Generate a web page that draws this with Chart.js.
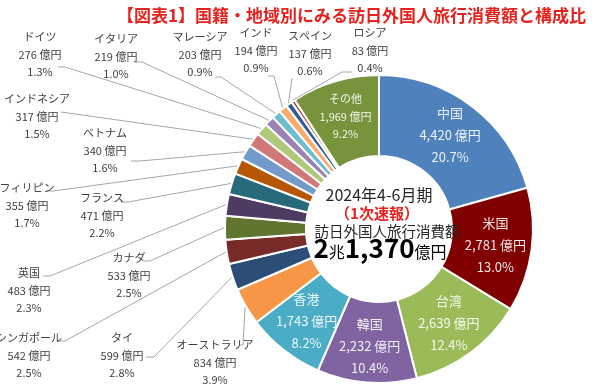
<!DOCTYPE html>
<html>
<head>
<meta charset="utf-8">
<script src="https://cdn.jsdelivr.net/npm/chart.js@4.4.0/dist/chart.umd.min.js"></script>
<style>
  body { margin: 0; background: #fff; }
  #c { display: block; }
</style>
</head>
<body>
<canvas id="c" width="599" height="389"></canvas>
<script>
// data (億円) and published shares
const categories = ['中国', '米国', '台湾', '韓国', '香港', 'オーストラリア', 'タイ', 'シンガポール', 'カナダ', '英国',
  'フランス', 'フィリピン', 'ベトナム', 'インドネシア', 'ドイツ', 'イタリア', 'マレーシア', 'インド', 'スペイン', 'ロシア', 'その他'];
const values = [4420, 2781, 2639, 2232, 1743, 834, 599, 542, 533, 483, 471, 355, 340, 317, 276, 219, 203, 194, 137, 83, 1969];
const shares = ['20.7%', '13.0%', '12.4%', '10.4%', '8.2%', '3.9%', '2.8%', '2.5%', '2.5%', '2.3%', '2.2%', '1.7%',
  '1.6%', '1.5%', '1.3%', '1.0%', '0.9%', '0.9%', '0.6%', '0.4%', '9.2%'];
const unit = '億円';

const colors = ['#4F81BD', '#800000', '#9BBB59', '#8064A2', '#4BACC6', '#F79646', '#2C4D75', '#772C2A', '#5F7530', '#4D3B62',
  '#276A7C', '#B65708', '#729ACA', '#D07878', '#AFC97A', '#9983B5', '#6FBDD1', '#F9AB6B', '#2F5C94', '#9E3B39', '#77933C'];

// labels for the thin slices sit outside: [text centre x, first row y, line attach x, attach y, elbow dx]
const outside = {
  5: [215, 345, 240, 345, 3],
  6: [122, 338, 146, 357, 8],
  7: [29, 338, 58, 341, 7],
  8: [129, 258, 143, 261, 7],
  9: [29, 273, 43, 276, 7],
  10: [102, 198, 121, 202, 7],
  11: [27, 188, 47, 191, 6],
  12: [105, 133, 131, 161, 9],
  13: [37, 99, 61, 112, 0],
  14: [40, 37, 58, 67, 7],
  15: [116, 39, 134, 62, 8],
  16: [200, 37, 215, 77, 6],
  17: [256, 33, 268, 76, 6],
  18: [310, 36, 292, 78, 0],
  19: [370, 33, 352, 72, -10]
};

const FONT = '"Noto Sans CJK JP", "Noto Sans", sans-serif';

function fmt(v) { return v.toLocaleString('en-US'); }

const labelPlugin = {
  id: 'labels',
  afterDraw(chart) {
    const ctx = chart.ctx;
    const arcs = chart.getDatasetMeta(0).data;
    ctx.save();
    ctx.textAlign = 'center';
    ctx.textBaseline = 'middle';

    arcs.forEach(function (arc, i) {
      const p = arc.getProps(['x', 'y', 'startAngle', 'endAngle', 'innerRadius', 'outerRadius'], true);
      const mid = (p.startAngle + p.endAngle) / 2;
      const lines = [categories[i], fmt(values[i]) + ' ' + unit, shares[i]];
      if (outside[i]) {
        const o = outside[i];
        // leader line
        const ex = p.x + (p.outerRadius + 1) * Math.cos(mid);
        const ey = p.y + (p.outerRadius + 1) * Math.sin(mid);
        ctx.strokeStyle = '#A6A6A6';
        ctx.lineWidth = 1;
        ctx.beginPath();
        ctx.moveTo(o[2], o[3]);
        if (o[4]) ctx.lineTo(o[2] + o[4], o[3]);
        ctx.lineTo(ex, ey);
        ctx.stroke();
        ctx.fillStyle = '#404040';
        ctx.font = '11px ' + FONT;
        lines.forEach(function (t, k) { ctx.fillText(t, o[0], o[1] + k * 17.5); });
      } else {
        const small = i === categories.length - 1;
        const r = (p.innerRadius + p.outerRadius) / 2 + 4;
        const cx = p.x + r * Math.cos(mid);
        const cy = p.y + r * Math.sin(mid);
        const gap = small ? 17.5 : 22;
        ctx.fillStyle = 'rgba(255,255,255,0.9)';
        ctx.font = (small ? 11 : 13) + 'px ' + FONT;
        lines.forEach(function (t, k) { ctx.fillText(t, cx, cy + (k - 1) * gap); });
      }
    });

    // centre text
    const c = arcs[0];
    const cx = c.x, cy = c.y;
    ctx.fillStyle = '#262626';
    ctx.font = '16px ' + FONT;
    ctx.fillText('2024年4-6月期', cx, cy - 34);
    ctx.fillStyle = '#E4231F';
    ctx.font = 'bold 15px ' + FONT;
    ctx.fillText('（1次速報）', cx - 2, cy - 16);
    ctx.fillStyle = '#262626';
    ctx.font = '14.5px ' + FONT;
    ctx.fillText('訪日外国人旅行消費額', cx + 8, cy + 2);

    const total = values.reduce(function (a, b) { return a + b; }, 0);
    const parts = [
      [String(Math.floor(total / 10000)), 'bold 26px ' + FONT],
      ['兆', '16px ' + FONT],
      [fmt(total % 10000), 'bold 26px ' + FONT],
      ['億円', '16px ' + FONT]
    ];
    let w = 0;
    parts.forEach(function (pt) { ctx.font = pt[1]; pt.push(ctx.measureText(pt[0]).width); w += pt[2]; });
    let x = cx + 1 - w / 2;
    ctx.textAlign = 'left';
    ctx.textBaseline = 'alphabetic';
    ctx.fillStyle = '#000';
    parts.forEach(function (pt) { ctx.font = pt[1]; ctx.fillText(pt[0], x, cy + 29); x += pt[2]; });

    // title
    ctx.textAlign = 'right';
    ctx.textBaseline = 'middle';
    ctx.fillStyle = '#E4231F';
    ctx.font = 'bold 17px ' + FONT;
    ctx.fillText('【図表1】国籍・地域別にみる訪日外国人旅行消費額と構成比', 586, 16);
    ctx.restore();
  }
};

new Chart(document.getElementById('c'), {
  type: 'doughnut',
  data: {
    labels: categories,
    datasets: [{
      data: values,
      backgroundColor: colors,
      borderColor: '#fff',
      borderWidth: 2
    }]
  },
  options: {
    responsive: false,
    devicePixelRatio: 1,
    animation: false,
    radius: 154,
    cutout: '47.4%',
    layout: { padding: { left: 179, right: 20, top: 74, bottom: 5 } },
    plugins: {
      legend: { display: false },
      title: { display: false },
      tooltip: { enabled: false }
    }
  },
  plugins: [labelPlugin]
});
</script>
</body>
</html>
